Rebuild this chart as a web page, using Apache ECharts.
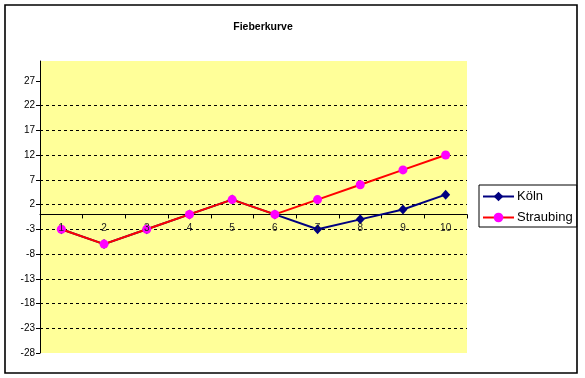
<!DOCTYPE html>
<html>
<head>
<meta charset="utf-8">
<script src="https://cdn.jsdelivr.net/npm/echarts@6/dist/echarts.min.js"></script>
<style>
html,body{margin:0;padding:0;background:#fff;}
#c{width:585px;height:378px;}
</style>
</head>
<body>
<div id="c"></div>
<script>
var categories = ['1','2','3','4','5','6','7','8','9','10'];
var koeln = [-3,-6,-3,0,3,0,-3,-1,1,4];
var straubing = [-3,-6,-3,0,3,0,3,6,9,12];
var yTicks = [-28,-23,-18,-13,-8,-3,2,7,12,17,22,27];
var yMin = -28, yMax = 31, yStep = 5;

var gridTop = 61, gridBottom = 25, chartH = 378;
var plotH = chartH - gridTop - gridBottom;
var zeroOffset = -plotH * (0 - yMin) / (yMax - yMin);

var chart = echarts.init(document.getElementById('c'), null, {renderer:'canvas'});
var font = 'Liberation Sans, Arial, sans-serif';
chart.setOption({
  animation:false,
  backgroundColor:'#fff',
  title:{
    text:'Fieberkurve', left:258, top:17, textAlign:'center',
    textStyle:{fontFamily:font, fontSize:10.5, fontWeight:'bold', color:'#000'}
  },
  graphic:[{
    type:'rect', silent:true, z:-1,
    shape:{x:5, y:5, width:572, height:368},
    style:{fill:null, stroke:'#000', lineWidth:1.6}
  }],
  legend:{
    orient:'vertical', left:479, top:185,
    borderColor:'#000', borderWidth:1,
    padding:[5,4,3,3], itemGap:8, itemWidth:31, itemHeight:12,
    backgroundColor:'#fff',
    textStyle:{fontFamily:font, fontSize:13, color:'#000', padding:[0,0,0,-2]},
    data:['Köln','Straubing']
  },
  grid:{left:40, right:118, top:gridTop, bottom:gridBottom, show:true, backgroundColor:'#FFFF99', borderWidth:0, z:0},
  xAxis:[{
    type:'category', data:categories, boundaryGap:true,
    position:'bottom', offset:zeroOffset,
    axisLine:{onZero:false, lineStyle:{color:'#000', width:1}},
    axisTick:{show:true, length:4, lineStyle:{color:'#000'}},
    axisLabel:{show:false},
    splitLine:{show:false}
  },{
    type:'category', data:categories, boundaryGap:true, z:20,
    position:'bottom', offset:zeroOffset,
    axisLine:{show:false, onZero:false},
    axisTick:{show:false},
    axisLabel:{margin:9, fontFamily:font, fontSize:10, color:'#222', hideOverlap:false},
    splitLine:{show:false}
  }],
  yAxis:{
    type:'value', min:yMin, max:yMax, interval:yStep,
    axisLine:{show:true, lineStyle:{color:'#000', width:1}},
    axisTick:{show:true, length:4, lineStyle:{color:'#000'}, customValues:yTicks},
    axisLabel:{margin:5, fontFamily:font, fontSize:10, color:'#000', customValues:yTicks},
    splitLine:{show:true, showMinLine:false, showMaxLine:false, lineStyle:{color:'#000', type:[3,3], width:1}}
  },
  series:[
    {
      name:'Köln', type:'line', data:koeln, z:2,
      symbol:'diamond', symbolSize:[9,10],
      lineStyle:{color:'#000080', width:2},
      itemStyle:{color:'#000080'}
    },
    {
      name:'Straubing', type:'line', data:straubing, z:3,
      symbol:'circle', symbolSize:9,
      lineStyle:{color:'#FF0000', width:2},
      itemStyle:{color:'#FF00FF'}
    }
  ]
});
</script>
</body>
</html>
